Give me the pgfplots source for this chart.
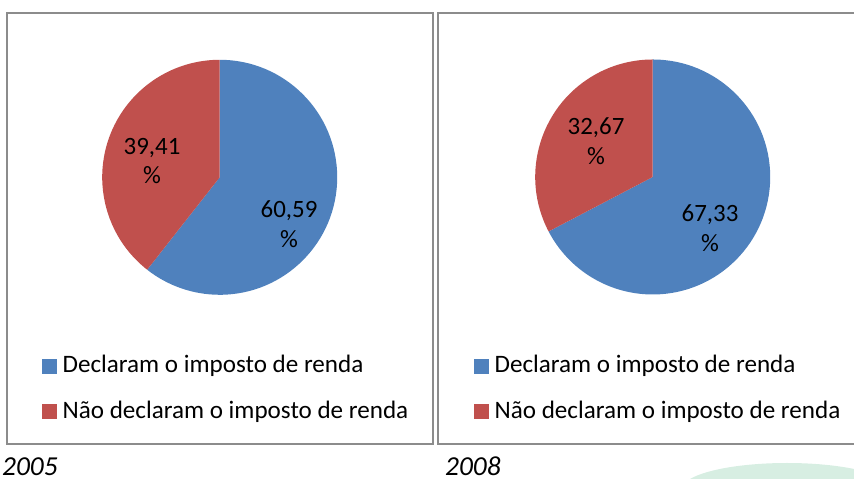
\documentclass[border=0pt]{standalone}
\usepackage{pgfplots}
\pgfplotsset{compat=1.18}
\usepackage{pgfplotstable}
\usepackage{fontspec}
\setmainfont{Carlito}
\definecolor{pieblue}{HTML}{4F81BD}
\definecolor{piered}{HTML}{C0504D}
\definecolor{bordergray}{HTML}{8C8C8C}
\definecolor{wmgreen}{HTML}{D7EEE2}

\newcommand\pieradius{117.5bp}
\pgfdeclareplotmark{piesector}{%
  \pgfmathsetmacro\pieSa{90-3.6*\pbefore}%
  \pgfmathsetmacro\pieEa{90-3.6*(\pbefore+\ppct)}%
  \pgfpathmoveto{\pgfpointorigin}%
  \pgfpathlineto{\pgfpointpolar{\pieSa}{\pieradius}}%
  \pgfpatharc{\pieSa}{\pieEa}{\pieradius}%
  \pgfpathclose
  \pgfusepathqfill}

\pgfplotstableread{
x y before pct
219.7 301.7 0 60.59
219.7 301.7 60.59 39.41
}\pieA
\pgfplotstableread{
x y before pct
652.7 302 0 67.33
652.7 302 67.33 32.67
}\pieB

\pgfplotsset{
  panel/.style={scale only axis, anchor=south west, xtick=\empty, ytick=\empty,
    axis line style={draw=bordergray, line width=2bp}, clip=false,
    legend cell align=left,
    legend style={draw=none, fill=none, inner sep=0pt, row sep=23.7bp,
      anchor=north west, font=\fontsize{25.2}{30}\selectfont,
      nodes={inner sep=0pt, text height=17bp, text depth=5bp}},
  },
  slice/.style={only marks, mark=piesector, forget plot,
    visualization depends on={\thisrow{before}\as\pbefore},
    visualization depends on={\thisrow{pct}\as\ppct}},
}
\tikzset{lbl/.style={align=center, font=\fontsize{25}{30}\selectfont, text=black, inner sep=0pt},
  year/.style={anchor=base west, inner sep=0pt, text depth=0pt, font=\fontsize{27.5}{33}\selectfont\itshape}}

\begin{document}
\begin{tikzpicture}[x=1bp,y=1bp]
\useasboundingbox (0,0) rectangle (854,479);
\fill[wmgreen] (787,-10) ellipse [x radius=105, y radius=26];

\begin{axis}[panel, at={(6.5bp,34.7bp)}, width=426.8bp, height=431.3bp,
  xmin=6.5, xmax=433.3, ymin=34.7, ymax=466,
  legend style={at={(0.0832,0.2054)}}]
\addplot[slice, pieblue, skip coords between index={1}{2}] table {\pieA};
\addplot[slice, piered, skip coords between index={0}{1}] table {\pieA};
\addlegendimage{legend image code/.code={\fill[pieblue] (0bp,-6bp) rectangle (14bp,8bp); \path (20bp,0bp);}}
\addlegendentry{Declaram o imposto de renda}
\addlegendimage{legend image code/.code={\fill[piered] (0bp,-6bp) rectangle (14bp,8bp); \path (20bp,0bp);}}
\addlegendentry{Não declaram o imposto de renda}
\end{axis}

\begin{axis}[panel, at={(438.3bp,34.7bp)}, width=419.7bp, height=431.3bp,
  xmin=438.3, xmax=858, ymin=34.7, ymax=466,
  legend style={at={(0.0851,0.2054)}}]
\addplot[slice, pieblue, skip coords between index={1}{2}] table {\pieB};
\addplot[slice, piered, skip coords between index={0}{1}] table {\pieB};
\addlegendimage{legend image code/.code={\fill[pieblue] (0bp,-6bp) rectangle (14bp,8bp); \path (20bp,0bp);}}
\addlegendentry{Declaram o imposto de renda}
\addlegendimage{legend image code/.code={\fill[piered] (0bp,-6bp) rectangle (14bp,8bp); \path (20bp,0bp);}}
\addlegendentry{Não declaram o imposto de renda}
\end{axis}

% data labels (axis units equal bp of the picture)
\node[lbl] at (289,254.5) {60,59\\\%};
\node[lbl] at (152,318) {39,41\\\%};
\node[lbl] at (710,251.2) {67,33\\\%};
\node[lbl] at (596,337.5) {32,67\\\%};

\node[year] at (2,3) {2005};
\node[year] at (445,3) {2008};
\end{tikzpicture}
\end{document}
